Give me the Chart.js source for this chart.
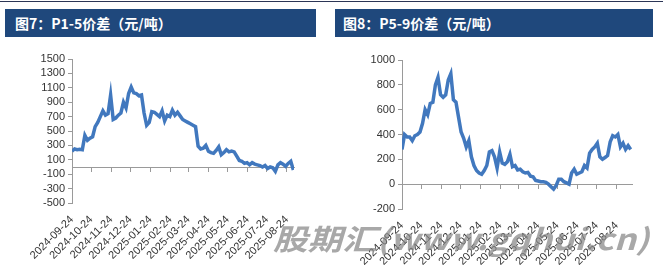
<!DOCTYPE html>
<html>
<head>
<meta charset="utf-8">
<script src="https://cdn.jsdelivr.net/npm/chart.js@4"></script>
<style>
    body { margin: 0; width: 670px; height: 269px; background: #fff; position: relative; overflow: hidden; }
    .topline { position: absolute; left: 0; top: 1px; width: 663px; height: 1px; background: #2b3556; }
    .head { position: absolute; top: 9px; height: 28px; background: #1f487c; color: #fff;
            font: bold 14px "Noto Sans CJK SC", sans-serif; line-height: 28px; white-space: nowrap; }
    .box { position: absolute; top: 40px; width: 335px; height: 229px; }
    .mark { position: absolute; left: 0; top: 0; pointer-events: none; }
</style>
</head>
<body>
<div class="topline"></div>
<div class="head" style="left:5px;width:311px;padding-left:10px;box-sizing:border-box">图7：P1-5价差（元/吨）</div>
<div class="head" style="left:335px;width:318px;padding-left:8px;box-sizing:border-box">图8：P5-9价差（元/吨）</div>
<div class="box" style="left:0"><canvas id="chart-p15"></canvas></div>
<div class="box" style="left:335px"><canvas id="chart-p59"></canvas></div>
<svg class="mark" width="670" height="269">
    <text x="273" y="250" textLength="376" lengthAdjust="spacingAndGlyphs"
          font-family="Noto Sans CJK SC, sans-serif" font-size="29" font-weight="bold" font-style="italic"
          fill="rgba(135,135,135,0.72)">股期汇(www.gqhui.cn)</text>
</svg>
<script>
/**
 * P1-5 and P5-9 spreads, one value every stepDays from startDate
 */
const startDate = "2024-09-24"
const stepDays = 4

const tickLabels = [
    "2024-09-24", "2024-10-24", "2024-11-24", "2024-12-24", "2025-01-24", "2025-02-24",
    "2025-03-24", "2025-04-24", "2025-05-24", "2025-06-24", "2025-07-24", "2025-08-24",
]

const p15Values = [
    220, 250, 240, 245, 240, 440, 370, 400, 420, 560,
    620, 700, 780, 720, 740, 1000, 660, 680, 720, 750,
    900, 820, 1020, 1110, 1030, 1020, 990, 1000, 750, 580,
    620, 770, 760, 730, 700, 780, 640, 720, 700, 790,
    720, 760, 710, 660, 640, 620, 600, 580, 560, 290,
    250, 260, 300, 220, 200, 190, 230, 280, 170, 200,
    240, 210, 220, 210, 150, 90, 80, 50, 60, 30,
    60, 40, 30, 20, 0, 20, -20, 0, -10, -60,
    30, 60, 40, 10, 50, 80, -40,
]

const p59Values = [
    280, 400, 380, 380, 350, 390, 400, 420, 490, 600,
    560, 650, 660, 800, 860, 720, 700, 720, 840, 890,
    680, 660, 540, 420, 370, 300, 350, 220, 150, 110,
    90, 80, 110, 150, 260, 270, 220, 130, 260, 170,
    160, 180, 240, 140, 150, 115, 120, 100, 90, 95,
    65, 60, 30, 25, 20, 20, 15, 0, -20, -40,
    -10, 40, 40, 20, 10, 0, 90, 120, 80, 90,
    100, 150, 130, 250, 280, 300, 330, 220, 200, 215,
    230, 340, 390, 380, 400, 300, 330, 280, 310, 280,
]

const axisColor = "#9a9a9a"
const textColor = "#333"
const lineColor = "#4178be"

function dayOffset(dateText) {
    return Math.round((Date.parse(dateText) - Date.parse(startDate)) / 86400000)
}

const tickDays = tickLabels.map(dayOffset)
const setMonthTicks = (axis) => { axis.ticks = tickDays.map((v) => ({ value: v })) }

/**
 * Draw one spread chart
 */
function drawSpread(canvasId, values, yMin, yMax, box) {
    new Chart(document.getElementById(canvasId), {
        type: "line",
        data: {
            datasets: [{
                data: values.map((v, i) => ({ x: i * stepDays, y: v })),
                borderColor: lineColor,
                borderWidth: 3.5,
                pointRadius: 0,
                tension: 0,
                fill: false,
            }]
        },
        options: {
            responsive: true,
            maintainAspectRatio: false,
            animation: false,
            layout: { padding: { top: box.top, right: box.right, left: 0, bottom: 0 } },
            plugins: { legend: { display: false }, tooltip: { enabled: false } },
            scales: {
                x: {
                    type: "linear",
                    min: 0,
                    max: box.xMax,
                    afterBuildTicks: setMonthTicks,
                    afterFit: (s) => { s.height = box.xHeight },
                    grid: { display: false },
                    border: { display: false },
                    ticks: {
                        autoSkip: false,
                        minRotation: 45,
                        maxRotation: 45,
                        padding: 2,
                        color: textColor,
                        font: { family: "Liberation Sans", size: 11 },
                        callback: (v, i) => tickLabels[i],
                    },
                },
                zero: {
                    type: "linear",
                    axis: "x",
                    position: { y: 0 },
                    min: 0,
                    max: box.xMax,
                    afterBuildTicks: setMonthTicks,
                    grid: { drawOnChartArea: false, drawTicks: true, tickLength: 4, color: axisColor },
                    border: { display: true, color: axisColor },
                    ticks: { display: false },
                },
                y: {
                    min: yMin,
                    max: yMax,
                    afterFit: (s) => { s.width = box.yWidth },
                    grid: { drawOnChartArea: false, drawTicks: true, tickLength: 4, color: axisColor },
                    border: { display: true, color: axisColor },
                    ticks: {
                        stepSize: 200,
                        autoSkip: false,
                        padding: 3,
                        color: textColor,
                        font: { family: "Liberation Sans", size: 11 },
                        callback: (v) => String(v),
                    },
                },
            },
        },
    })
}

drawSpread("chart-p15", p15Values, -500, 1500, { top: 19, right: 41, yWidth: 72, xHeight: 66, xMax: 345 })
drawSpread("chart-p59", p59Values, -200, 1000, { top: 20, right: 38, yWidth: 67, xHeight: 60, xMax: 358 })
</script>
</body>
</html>
